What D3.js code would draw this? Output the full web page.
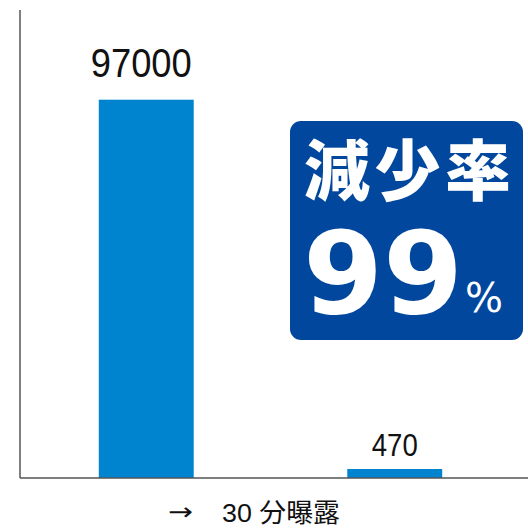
<!DOCTYPE html>
<html>
<head>
<meta charset="utf-8">
<script src="https://cdn.jsdelivr.net/npm/d3@7"></script>
<style>
body { margin: 0; background: #fff; }
</style>
</head>
<body>
<svg width="528" height="528"></svg>
<script>
var categories = ["before", "after"];
var values = [97000, 470];
var labels = ["97000", "470"];
var badgeTitle = "減少率";
var badgeValue = "99";
var badgeUnit = "%";
var xArrow = "→";
var xTitle = "30 分曝露";

var svg = d3.select("svg"),
	width = +svg.attr("width"),
	height = +svg.attr("height");

var x0 = 20, baseY = 478, topY = 10;

var x = d3.scaleBand()
	.domain(categories)
	.range([22, 519])
	.paddingInner(0.618)
	.paddingOuter(0.309);

var y = d3.scaleLinear()
	.domain([0, 120000])
	.range([baseY, topY]);

// very small bars still get a visible sliver
function barTop(d) { return Math.min(y(d), baseY - 9); }

svg.append("g")
	.selectAll("rect")
	.data(values)
	.enter().append("rect")
	.attr("x", function(d, i){ return x(categories[i]); })
	.attr("y", barTop)
	.attr("width", x.bandwidth())
	.attr("height", function(d){ return baseY - barTop(d); })
	.style("fill", "#0084cf");

// axes lines
svg.append("line")
	.attr("x1", x0).attr("x2", x0)
	.attr("y1", topY).attr("y2", baseY)
	.style("stroke", "#555").style("stroke-width", 1.5);
svg.append("line")
	.attr("x1", x0).attr("x2", width)
	.attr("y1", baseY).attr("y2", baseY)
	.style("stroke", "#555").style("stroke-width", 1.5);

// value labels (narrow look)
var sizes = [41, 31];
var gaps = [24, 14];
var lens = [101, 46];
svg.append("g")
	.selectAll("text")
	.data(values)
	.enter().append("text")
	.attr("x", function(d, i){ return x(categories[i]) + x.bandwidth() / 2 - 5 * (1 - i) - lens[i] / 2; })
	.attr("y", function(d, i){ return barTop(d) - gaps[i] + 1; })
	.attr("textLength", function(d, i){ return lens[i]; })
	.attr("lengthAdjust", "spacingAndGlyphs")
	.style("font-family", "'Liberation Sans', Arial, sans-serif")
	.style("font-size", function(d, i){ return sizes[i] + "px"; })
	.style("fill", "#111")
	.text(function(d, i){ return labels[i]; });

// x title
svg.append("text")
	.attr("x", 168)
	.attr("y", 520)
	.attr("textLength", 25)
	.attr("lengthAdjust", "spacingAndGlyphs")
	.style("font-family", "'DejaVu Sans', sans-serif")
	.style("font-size", "24px")
	.style("fill", "#111")
	.text(xArrow);
svg.append("text")
	.attr("x", 222)
	.attr("y", 522)
	.attr("textLength", 118)
	.attr("lengthAdjust", "spacingAndGlyphs")
	.style("font-family", "'Liberation Sans', 'Noto Sans CJK JP', sans-serif")
	.style("font-size", "26px")
	.style("fill", "#111")
	.text(xTitle);

// badge
var badge = svg.append("g");
badge.append("rect")
	.attr("x", 290).attr("y", 121)
	.attr("width", 233).attr("height", 219)
	.attr("rx", 11)
	.style("fill", "#00479d");
badge.append("text")
	.attr("x", 304).attr("y", 195)
	.attr("textLength", 207)
	.style("font-family", "'Noto Sans CJK JP', sans-serif")
	.style("font-weight", 900)
	.style("font-size", "66px")
	.style("fill", "#fff")
	.text(badgeTitle);
badge.append("text")
	.attr("x", 303).attr("y", 313)
	.attr("textLength", 160)
	.attr("lengthAdjust", "spacingAndGlyphs")
	.style("font-family", "'DejaVu Sans', sans-serif")
	.style("font-weight", "bold")
	.style("font-size", "114px")
	.style("fill", "#fff")
	.text(badgeValue);
badge.append("text")
	.attr("x", 465).attr("y", 312)
	.style("font-family", "'DejaVu Sans', sans-serif")
	.style("font-size", "40px")
	.style("fill", "#fff")
	.text(badgeUnit);
</script>
</body>
</html>
